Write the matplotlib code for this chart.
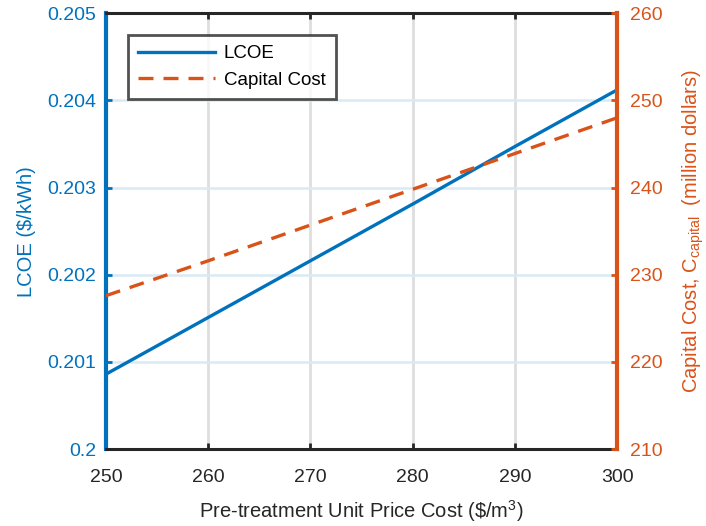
import numpy as np
import matplotlib
matplotlib.use('Agg')
import matplotlib.pyplot as plt

plt.rcParams['font.family'] = ['Liberation Sans', 'DejaVu Sans']
plt.rcParams['mathtext.fontset'] = 'custom'
plt.rcParams['mathtext.rm'] = 'Liberation Sans'
plt.rcParams['mathtext.it'] = 'Liberation Sans:italic'

# data
price = [250, 260, 270, 280, 290, 300]
lcoe = [0.20086, 0.20151, 0.20216, 0.20281, 0.20347, 0.20412]
capital = [227.6, 231.6, 235.7, 239.8, 243.9, 248.0]

blue = '#0072BD'
orange = '#D95319'
dark = '#262626'

fig = plt.figure(figsize=(7.06, 5.26), dpi=100)
ax = fig.add_axes([0.150, 0.146, 0.724, 0.829])
ax2 = ax.twinx()

l1, = ax.plot(price, lcoe, color=blue, lw=2.4, label='LCOE', zorder=3)
l2, = ax2.plot(price, capital, color=orange, lw=2.4, ls=(0, (4.5, 3)), label='Capital Cost')

ax.set_xlim(250, 300)
ax.set_ylim(0.2, 0.205)
ax2.set_ylim(210, 260)
ax.set_xticks(np.arange(250, 301, 10))
ax.set_yticks([0.2, 0.201, 0.202, 0.203, 0.204, 0.205])
ax.set_yticklabels(['0.2', '0.201', '0.202', '0.203', '0.204', '0.205'])
ax2.set_yticks(np.arange(210, 261, 10))

# grid: gray verticals, light blue horizontals
ax.set_axisbelow(True)
ax.xaxis.grid(True, color='#dedede', lw=2.0)
ax.yaxis.grid(True, color='#d9eaf5', lw=1.8)

# spines
for s in ['left', 'right', 'top', 'bottom']:
    ax2.spines[s].set_visible(s == 'right')
ax.spines['right'].set_visible(False)
ax.spines['left'].set_color(blue)
ax.spines['left'].set_linewidth(3.0)
ax2.spines['right'].set_color(orange)
ax2.spines['right'].set_linewidth(3.0)
ax.spines['top'].set_color(dark)
ax.spines['bottom'].set_color(dark)
ax.spines['top'].set_linewidth(2.2)
ax.spines['bottom'].set_linewidth(2.2)

ax.tick_params(axis='x', direction='in', top=True, length=4, width=2,
               colors=dark, labelsize=14, pad=14)
ax.tick_params(axis='y', direction='in', length=4, width=2,
               colors=blue, labelsize=14, pad=7)
ax2.tick_params(axis='y', direction='in', length=4, width=2,
                colors=orange, labelsize=14, pad=9)

ax.set_xlabel(r'Pre-treatment Unit Price Cost (\$/m$^3$)', fontsize=14.5,
              color=dark, labelpad=9)
ax.set_ylabel(r'LCOE (\$/kWh)', fontsize=14.5, color=blue, labelpad=8)
ax2.set_ylabel(r'Capital Cost, C$_{\mathrm{capital}}$  (million dollars)',
               fontsize=14.5, color=orange, labelpad=13)

leg = ax2.legend(handles=[l1, l2], loc='upper left', bbox_to_anchor=(0.043, 0.95),
                 fontsize=13.5, frameon=True, fancybox=False, borderpad=0.55,
                 handlelength=4.1, handletextpad=0.45, borderaxespad=0)
leg.get_frame().set_edgecolor(dark)
leg.get_frame().set_linewidth(2.0)
for t in leg.get_texts():
    t.set_color('black')

fig.savefig('out.png', dpi=100)
